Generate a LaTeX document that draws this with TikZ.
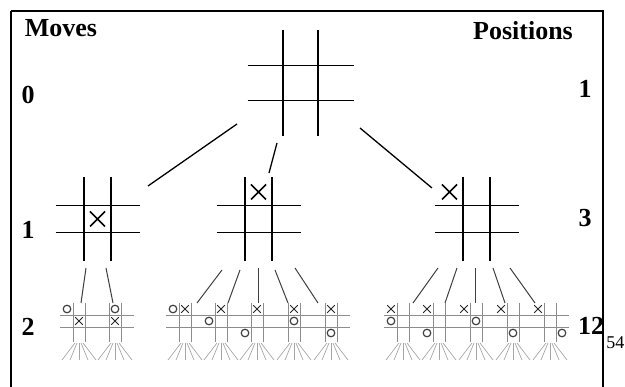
\documentclass[tikz,border=0pt]{standalone}
\usepackage{fontspec}
\setmainfont{Liberation Serif}
\begin{document}
\begin{tikzpicture}[x=1pt,y=-1pt,
  gridline/.style={line width=1.4pt,black},
  edge/.style={line width=1.3pt,black},
  medge/.style={line width=1pt,black!75},
  minigrid/.style={line width=0.9pt,black!45},
  fanline/.style={line width=0.7pt,black!35},
  xmark/.style={line width=1.6pt,black},
  smallx/.style={line width=1pt,black!85},
  smallo/.style={line width=1.2pt,black!75},
  lbl/.style={font=\bfseries\fontsize{26}{26}\selectfont,inner sep=0pt},
  frame/.style={line width=1.8pt,black}]
\useasboundingbox (0,0) rectangle (625,387);
\draw[frame] (11,11) -- (11,392) (11,11) -- (603,11) -- (603,392);
% labels
\node[lbl] (moves) at (61,28) {Moves};
\node[lbl] (positions) at (523,31) {Positions};
\node[lbl] (m0) at (28,95) {0};
\node[lbl] (m1) at (28,230) {1};
\node[lbl] (m2) at (28,327) {2};
\node[lbl] (p1) at (585,89) {1};
\node[lbl] (p3) at (585,218) {3};
\node[lbl] (p12) at (591,326) {12};
\node[font=\fontsize{18}{18}\selectfont,inner sep=0pt,anchor=east] (p54) at (624.5,343) {54};
% big boards
\newcommand\BigBoard[4]{% cx cy half-gap extent
  \draw[gridline] (#1-#3,#2-#4) -- (#1-#3,#2+#4) (#1+#3,#2-#4) -- (#1+#3,#2+#4)
    (#1-#4,#2-#3) -- (#1+#4,#2-#3) (#1-#4,#2+#3) -- (#1+#4,#2+#3);}
\newcommand\BigX[3]{\draw[xmark] (#1-#3,#2-#3) -- (#1+#3,#2+#3) (#1-#3,#2+#3) -- (#1+#3,#2-#3);}
\BigBoard{300.5}{83}{17.5}{53}
\BigBoard{97.5}{219}{13.5}{42}
\BigBoard{258.5}{219}{13.5}{42}
\BigBoard{476.5}{219}{13.5}{42}
\BigX{97.5}{219}{7.5}
\BigX{258.5}{192}{7.5}
\BigX{449.5}{192}{7.5}
% root edges
\coordinate (r1) at (237,124); \coordinate (a1) at (148,186);
\coordinate (r2) at (277,143); \coordinate (a2) at (269,173);
\coordinate (r3) at (360,128); \coordinate (a3) at (432,188);
\draw[edge] (r1) -- (a1) (r2) -- (a2) (r3) -- (a3);
% mini boards
\newcommand\Mini[1]{%
  \draw[minigrid] (#1-19,315) -- (#1+19,315) (#1-19,327) -- (#1+19,327)
    (#1-6,303) -- (#1-6,342) (#1+6,303) -- (#1+6,342);
  \foreach \a/\b in {-4/-17,-2/-9,0/0,2/9,4/17}
    \draw[fanline] (#1+\a,343) -- (#1+\b,360);}
\newcommand\SX[2]{\draw[smallx] (#1-3.8,#2-3.8) -- (#1+3.8,#2+3.8) (#1-3.8,#2+3.8) -- (#1+3.8,#2-3.8);}
\newcommand\SO[2]{\draw[smallo] (#1,#2) circle (3.8);}
\foreach \c in {79,115,185,221,257,294,331,403,439,476,513,550} {\Mini{\c}}
% left group
\SX{79}{321}\SO{67}{309}
\SX{115}{321}\SO{115}{309}
% middle group
\SX{185}{309}\SO{173}{309}
\SX{221}{309}\SO{209}{321}
\SX{257}{309}\SO{245}{333}
\SX{294}{309}\SO{294}{321}
\SX{331}{309}\SO{331}{333}
% right group
\SX{391}{309}\SO{391}{321}
\SX{427}{309}\SO{427}{333}
\SX{464}{309}\SO{476}{321}
\SX{501}{309}\SO{513}{333}
\SX{538}{309}\SO{562}{333}
% level-1 to level-2 edges
\foreach \i/\x/\y/\u/\v in {1/86/268/81/303, 2/106/268/113/303,
  3/222/270/197/303, 4/240/270/228/303, 5/258/268/258/303, 6/275/270/288/303, 7/295/268/318/303,
  8/438/268/413/303, 9/457/268/445/303, 10/475/268/475/303, 11/493/268/505/303, 12/510/268/535/303} {
  \coordinate (s\i) at (\x,\y); \coordinate (t\i) at (\u,\v);
  \draw[medge] (s\i) -- (t\i);}
\end{tikzpicture}
\end{document}
